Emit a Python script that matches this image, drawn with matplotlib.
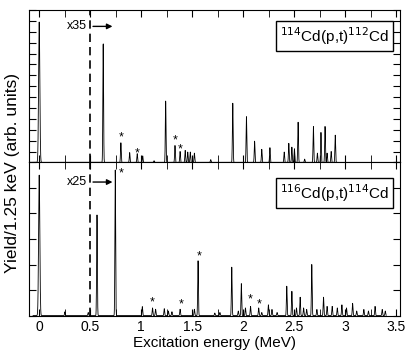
import numpy as np
from matplotlib import pyplot as plt
from matplotlib.ticker import MultipleLocator

plt.rcParams['font.family'] = ['Liberation Sans', 'DejaVu Sans']

# peak positions (MeV) and displayed heights (tick units)
top_e = [0.0, 0.627, 0.80, 0.886, 0.96, 1.014, 1.125, 1.239, 1.33, 1.38, 1.43, 1.455,
         1.48, 1.52, 1.68, 1.896, 2.03, 2.11, 2.18, 2.26, 2.40, 2.445, 2.475, 2.50,
         2.536, 2.60, 2.686, 2.725, 2.76, 2.80, 2.82, 2.86, 2.90]
top_h = [12.9, 11.0, 1.8, 0.9, 0.8, 0.6, 0.15, 5.65, 1.55, 1.0, 1.1, 0.95,
         0.95, 0.85, 0.25, 5.45, 4.2, 1.95, 1.2, 1.35, 0.95, 1.75, 1.4, 1.25,
         3.7, 0.3, 3.3, 0.85, 2.75, 3.3, 0.85, 1.0, 2.5]

bot_e = [0.0, 0.252, 0.48, 0.566, 0.745, 1.01, 1.11, 1.14, 1.225, 1.265, 1.30, 1.38,
         1.52, 1.556, 1.72, 1.77, 1.886, 1.95, 1.98, 2.02, 2.07, 2.15, 2.18, 2.245,
         2.28, 2.33, 2.425, 2.475, 2.52, 2.556, 2.59, 2.62, 2.67, 2.72, 2.785, 2.82,
         2.87, 2.92, 2.965, 3.01, 3.07, 3.11, 3.18, 3.225, 3.29, 3.36, 3.39]
bot_h = [5.5, 0.15, 0.12, 3.95, 5.7, 0.35, 0.3, 0.25, 0.27, 0.18, 0.15, 0.25,
         0.25, 2.15, 0.1, 0.12, 1.9, 0.18, 1.25, 0.3, 0.36, 0.3, 0.12, 0.42,
         0.24, 0.12, 1.15, 0.95, 0.3, 0.72, 0.3, 0.24, 2.0, 0.24, 0.72, 0.36,
         0.36, 0.3, 0.42, 0.3, 0.48, 0.18, 0.24, 0.18, 0.36, 0.24, 0.18]

top_star_e = [0.80, 0.96, 1.33, 1.38]
top_star_y = [2.26, 0.79, 2.05, 1.22]
bot_star_e = [0.80, 1.11, 1.39, 1.566, 2.07, 2.15]
bot_star_y = [5.56, 0.50, 0.44, 2.33, 0.64, 0.45]


def spectrum(e, h, emax):
    x = np.arange(-0.06, emax, 0.00125)
    y = np.zeros_like(x)
    for c, a in zip(e, h):
        s = 0.006 if c < 0.05 else 0.0035
        y += a * np.exp(-0.5 * ((x - c) / s) ** 2)
    return x, y


fig = plt.figure(figsize=(4.16, 3.53), dpi=100)
ax1 = fig.add_axes([0.0697, 0.540, 0.892, 0.4315])
ax2 = fig.add_axes([0.0697, 0.106, 0.892, 0.434])

panels = [(ax1, top_e, top_h, 2.92, 14, 12.5, 0.83, top_star_e, top_star_y, 'x35',
           r'$^{114}$Cd(p,t)$^{112}$Cd'),
          (ax2, bot_e, bot_h, 3.40, 6, 5.23, 0.80, bot_star_e, bot_star_y, 'x25',
           r'$^{116}$Cd(p,t)$^{114}$Cd')]

for ax, e, h, emax, ytop, ay, ly, se, sy, scale, lab in panels:
    x, y = spectrum(e, h, emax)
    ax.plot(x, y, color='black', lw=0.6)
    ax.axvline(0.5, color='black', lw=1.2, ls=(0, (5, 3)))
    ax.set_xlim(-0.1, 3.535)
    ax.set_ylim(0, ytop)
    ax.xaxis.set_major_locator(MultipleLocator(0.5))
    ax.xaxis.set_minor_locator(MultipleLocator(0.25))
    ax.yaxis.set_major_locator(MultipleLocator(1))
    ax.tick_params(which='both', direction='in', top=True, right=True, labelsize=10)
    ax.tick_params(which='both', length=5)
    ax.set_yticklabels([])
    for a, b in zip(se, sy):
        ax.text(a, b, '*', ha='center', va='center', fontsize=9)
    ax.annotate('', xy=(0.745, ay), xytext=(0.5, ay),
                arrowprops=dict(arrowstyle='-|>', color='black', lw=1, mutation_scale=8))
    ax.text(0.47, ay, scale, ha='right', va='center', fontsize=9)
    ax.text(0.97, ly, lab, transform=ax.transAxes, ha='right', va='center',
            fontsize=11, bbox=dict(boxstyle='square,pad=0.25', fc='white', ec='black', lw=1))

ax1.set_xticklabels([])
ax2.set_xticks([0, 0.5, 1, 1.5, 2, 2.5, 3, 3.5])
ax2.set_xticklabels(['0', '0.5', '1', '1.5', '2', '2.5', '3', '3.5'])
ax2.set_xlabel('Excitation energy (MeV)', fontsize=11, labelpad=1)
fig.text(0.03, 0.511, 'Yield/1.25 keV (arb. units)', rotation=90,
         ha='center', va='center', fontsize=12.5)

plt.savefig('out.png', dpi=100)
